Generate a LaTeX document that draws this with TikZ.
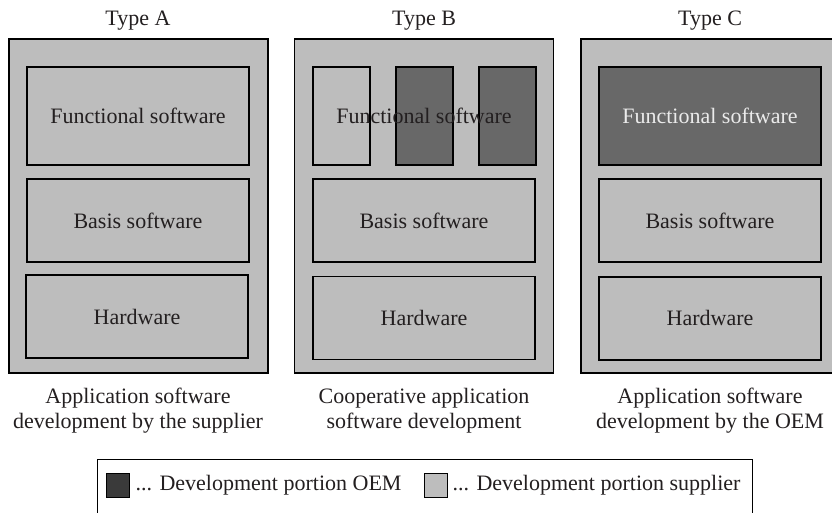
\documentclass[tikz,border=0pt]{standalone}
\usepackage{fontspec}
\setmainfont{Liberation Serif}
\usetikzlibrary{positioning}
\definecolor{supgray}{RGB}{189,189,189}
\definecolor{oemgray}{RGB}{104,104,104}
\definecolor{oemdark}{RGB}{58,58,58}
\definecolor{ink}{RGB}{35,31,32}
\tikzset{
  txt/.style={text=ink,font=\fontsize{22}{25.5}\selectfont,inner sep=2pt},
  panel/.style={draw=black,fill=supgray,line width=1.3pt,minimum width=259pt,minimum height=334pt,inner sep=0pt},
  layer/.style={txt,draw=black,fill=supgray,line width=1.5pt,minimum width=222pt,minimum height=83pt},
  funlayer/.style={layer,minimum height=98pt},
  slice/.style={draw=black,line width=1.5pt,minimum width=57pt,minimum height=98pt,inner sep=0pt},
  caption/.style={txt,align=center},
  swatch/.style={draw=black,line width=1pt,minimum width=23pt,minimum height=24pt,inner sep=0pt}
}
\begin{document}
\begin{tikzpicture}[x=1pt,y=-1pt]
  \useasboundingbox (0,0) rectangle (832,513);
  % Type A
  \node[txt] (titA) at (138,21) {Type A};
  \node[panel] (panA) at (138.5,206) {};
  \node[funlayer] (funA) at (138,116) {Functional software};
  \node[layer] (basA) at (138,220.5) {Basis software};
  \node[layer] (hwA) at (137,316.5) {Hardware};
  \node[caption] (capA) at (138,410.5) {Application software\\development by the supplier};
  % Type B
  \node[txt] (titB) at (424,21) {Type B};
  \node[panel] (panB) at (424,206) {};
  \node[slice,fill=supgray] (slB1) at (341.5,116) {};
  \node[slice,fill=oemgray] (slB2) at (424.5,116) {};
  \node[slice,fill=oemgray] (slB3) at (507.5,116) {};
  \node[txt] (funB) at (424,116) {Functional software};
  \node[layer,line width=1.7pt] (basB) at (424,220.5) {Basis software};
  \node[layer,line width=1.8pt] (hwB) at (424,318) {Hardware};
  \node[caption] (capB) at (424,410.5) {Cooperative application\\software development};
  % Type C
  \node[txt] (titC) at (710,21) {Type C};
  \node[panel] (panC) at (710.5,206) {};
  \node[funlayer,fill=oemgray,text=white!92!black,line width=2pt] (funC) at (710,116) {Functional software};
  \node[layer,line width=2pt] (basC) at (710,220.5) {Basis software};
  \node[layer,line width=2pt] (hwC) at (710,318) {Hardware};
  \node[caption] (capC) at (710,410.5) {Application software\\development by the OEM};
  % legend
  \node[draw=black,fill=white,line width=1pt,minimum width=655pt,minimum height=72pt] (leg) at (424.5,495) {};
  \node[swatch,fill=oemdark] (swO) at (117.5,485) {};
  \node[txt,right=4pt of swO] (lgO) {... Development portion OEM};
  \node[swatch,fill=supgray] (swS) at (435.5,485) {};
  \node[txt,right=3pt of swS] (lgS) {... Development portion supplier};
\end{tikzpicture}
\end{document}
